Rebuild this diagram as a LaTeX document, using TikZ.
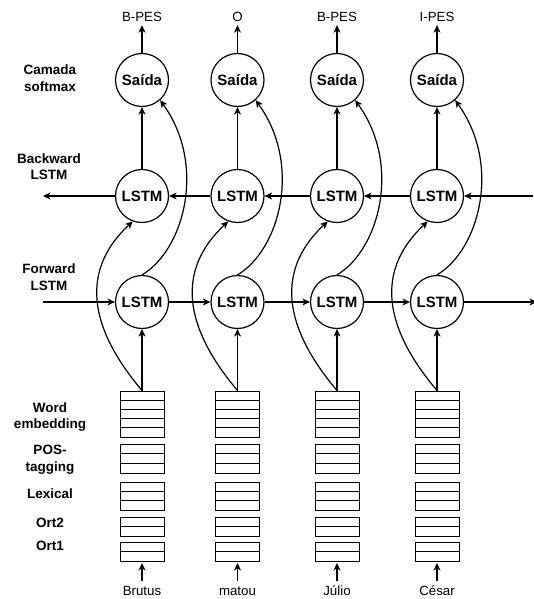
\documentclass[tikz,border=0pt]{standalone}
\usepackage{fontspec}
\setmainfont{Liberation Sans}
\usetikzlibrary{arrows.meta,calc}
\begin{document}
\begin{tikzpicture}[x=1pt,y=-1pt,
  every node/.style={font=\fontsize{13.3}{16}\selectfont},
  unit/.style={circle,draw,line width=1.2pt,minimum size=53pt,inner sep=0pt,font=\fontsize{15}{18}\selectfont\bfseries},
  lbl/.style={align=center,font=\fontsize{13.5}{16.5}\selectfont\bfseries},
  conn/.style={line width=1.2pt,-{Stealth[length=7.5pt,width=7pt,inset=2.2pt]}},
  layer/.style={draw,line width=1pt,minimum width=44pt,inner sep=0pt},
  rowline/.style={line width=0.9pt},
  word/.style={anchor=base,text height=10pt,text depth=3pt},
  tag/.style={anchor=base}
]
\useasboundingbox (0,0) rectangle (533,599);

% left labels
\node[lbl] (lsoft) at (50,78) {Camada\\softmax};
\node[lbl] (lbwd) at (49,166.5) {Backward\\LSTM};
\node[lbl] (lfwd) at (49,277) {Forward\\LSTM};
\node[lbl] (lemb) at (50,417) {Word\\embedding};
\node[lbl] (lpos) at (50,459.5) {POS-\\tagging};
\node[lbl] (llex) at (50,494) {Lexical};
\node[lbl] (lort2) at (50,523) {Ort2};
\node[lbl] (lort1) at (50,546) {Ort1};

\foreach \cx/\i/\w/\tg in {142/1/Brutus/B-PES, 237.5/2/matou/O, 337/3/Júlio/B-PES, 437/4/César/I-PES}{
  \node[unit] (s\i) at (\cx,80) {Saída};
  \node[unit] (b\i) at (\cx,196) {LSTM};
  \node[unit] (f\i) at (\cx,302) {LSTM};
  \node[tag] (y\i) at (\cx,21.5) {\tg};
  \node[word] (t\i) at (\cx,595) {\w};
  \foreach \T/\B/\n/\nm in {391/437/5/w, 444/473/3/p, 482/510/3/x, 517/536/2/q, 542/561/2/r}{
    \node[layer,minimum height={\B-\T}] (\nm\i) at (\cx,{(\T+\B)/2}) {};
    \pgfmathtruncatemacro\m{\n-1}
    \foreach \k in {1,...,\m}{
      \draw[rowline] ({\cx-22},{\T+\k*(\B-\T)/\n}) -- ({\cx+22},{\T+\k*(\B-\T)/\n});
    }
  }
  \draw[conn] (w\i.north) -- (f\i.south);
  \draw[conn] (w\i.north) .. controls ({\cx-47},335) and ({\cx-67},275) .. (b\i.250);
  \draw[conn] (f\i.north) .. controls ({\cx+42},250) and ({\cx+65},165) .. (s\i.312);
  \draw[conn] (b\i.north) -- (s\i.south);
  \draw[conn] (s\i.north) -- (y\i.south);
  \draw[conn,shorten >=1.5pt] (t\i.north) -- (r\i.south);
}

\coordinate (bl) at (43,196);
\coordinate (br) at (533,196);
\coordinate (fl) at (43,302);
\coordinate (fr) at (537,302);
\draw[conn] (br) -- (b4);
\draw[conn] (b4) -- (b3);
\draw[conn] (b3) -- (b2);
\draw[conn] (b2) -- (b1);
\draw[conn] (b1) -- (bl);
\draw[conn] (fl) -- (f1);
\draw[conn] (f1) -- (f2);
\draw[conn] (f2) -- (f3);
\draw[conn] (f3) -- (f4);
\draw[conn] (f4) -- (fr);
\end{tikzpicture}
\end{document}
